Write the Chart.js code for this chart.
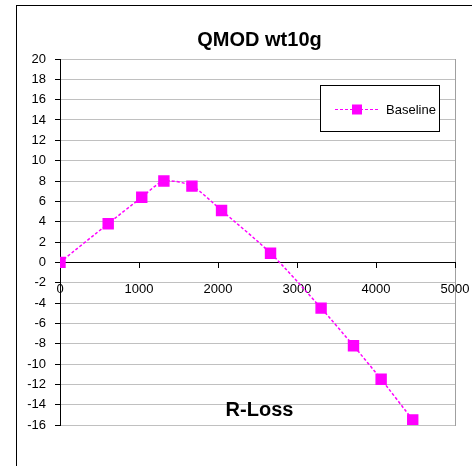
<!DOCTYPE html>
<html>
<head>
<meta charset="utf-8">
<script src="https://cdn.jsdelivr.net/npm/chart.js@4/dist/chart.umd.min.js"></script>
<style>
  html, body { margin: 0; padding: 0; background: #fff; }
  #wrap { position: relative; width: 472px; height: 466px; }
</style>
</head>
<body>
<div id="wrap"><canvas id="canvas-1" width="472" height="466"></canvas></div>
<script>
// data
var rLoss = [0, 610, 1035, 1315, 1670, 2045, 2665, 3305, 3715, 4065, 4465];
var baseline = [0, 3.8, 6.4, 8.0, 7.5, 5.1, 0.9, -4.5, -8.2, -11.5, -15.5];
var seriesName = 'Baseline';
var chartTitle = 'QMOD wt10g';
var xTitle = 'R-Loss';

var points = [];
for (var i = 0; i < rLoss.length; i++) {
    points.push({ x: rLoss[i], y: baseline[i] });
}

var tickFont = { family: '"Liberation Sans", Arial, sans-serif', size: 13 };

// frame, plot border, title, axis title, legend box
var extras = {
    id: 'extras',
    beforeDraw: function (chart) {
        var c = chart.ctx, a = chart.chartArea;
        c.save();
        c.fillStyle = '#fff';
        c.fillRect(0, 0, chart.width, chart.height);
        c.strokeStyle = '#000';
        c.lineWidth = 1;
        c.strokeRect(16.5, 5.5, chart.width + 10, chart.height + 10);
        c.strokeStyle = '#a0a0a0';
        c.strokeRect(a.left + 0.5, a.top + 0.5, a.right - a.left, a.bottom - a.top);
        c.restore();
    },
    afterDraw: function (chart) {
        var c = chart.ctx, a = chart.chartArea;
        var cx = (a.left + a.right) / 2;
        c.save();
        c.fillStyle = '#000';
        c.textAlign = 'center';
        c.textBaseline = 'middle';
        c.font = 'bold 20px "Liberation Sans", Arial, sans-serif';
        c.fillText(chartTitle, cx + 2, 40);
        c.font = 'bold 20px "Liberation Sans", Arial, sans-serif';
        c.fillText(xTitle, cx + 2, 410);

        // legend
        var ds = chart.data.datasets[0];
        c.fillStyle = '#fff';
        c.fillRect(320.5, 85.5, 119, 46);
        c.strokeStyle = '#000';
        c.lineWidth = 1;
        c.strokeRect(320.5, 85.5, 119, 46);
        c.strokeStyle = ds.borderColor;
        c.setLineDash([3, 2]);
        c.beginPath();
        c.moveTo(335, 109.5);
        c.lineTo(379, 109.5);
        c.stroke();
        c.setLineDash([]);
        c.fillStyle = ds.pointBackgroundColor;
        c.fillRect(352, 104.5, 10, 10);
        c.fillStyle = '#000';
        c.textAlign = 'left';
        c.font = '13px "Liberation Sans", Arial, sans-serif';
        c.fillText(seriesName, 386, 110);
        c.restore();
    }
};

var ctx = document.getElementById('canvas-1');
var chart = new Chart(ctx, {
    type: 'line',
    data: {
        datasets: [{
            label: seriesName,
            data: points,
            borderColor: '#ff00ff',
            backgroundColor: '#ff00ff',
            pointBackgroundColor: '#ff00ff',
            pointBorderColor: '#ff00ff',
            borderWidth: 1.5,
            borderDash: [3, 2],
            pointStyle: 'rect',
            pointRadius: 7,
            pointHoverRadius: 7,
            tension: 0.25,
            fill: false
        }]
    },
    options: {
        responsive: false,
        animation: false,
        layout: { padding: { top: 59, right: 17, bottom: 41, left: 0 } },
        plugins: {
            legend: { display: false },
            title: { display: false },
            tooltip: { enabled: false }
        },
        scales: {
            x: {
                type: 'linear',
                position: { y: 0 },
                min: 0,
                max: 5000,
                ticks: {
                    stepSize: 1000,
                    color: '#000',
                    padding: 14,
                    font: tickFont,
                    callback: function (v) { return String(v); }
                },
                grid: { drawOnChartArea: false, drawTicks: true, tickLength: 5, tickColor: '#000' },
                border: { color: '#000', width: 1 },
                afterFit: function (scale) { scale.paddingLeft = 0; scale.paddingRight = 0; }
            },
            y: {
                min: -16,
                max: 20,
                ticks: {
                    stepSize: 2,
                    color: '#000',
                    padding: 9,
                    font: tickFont
                },
                grid: { color: '#c0c0c0', tickLength: 5, tickColor: '#000' },
                border: { color: '#000', width: 1 },
                afterFit: function (scale) { scale.width = 60; }
            }
        }
    },
    plugins: [extras]
});
</script>
</body>
</html>
